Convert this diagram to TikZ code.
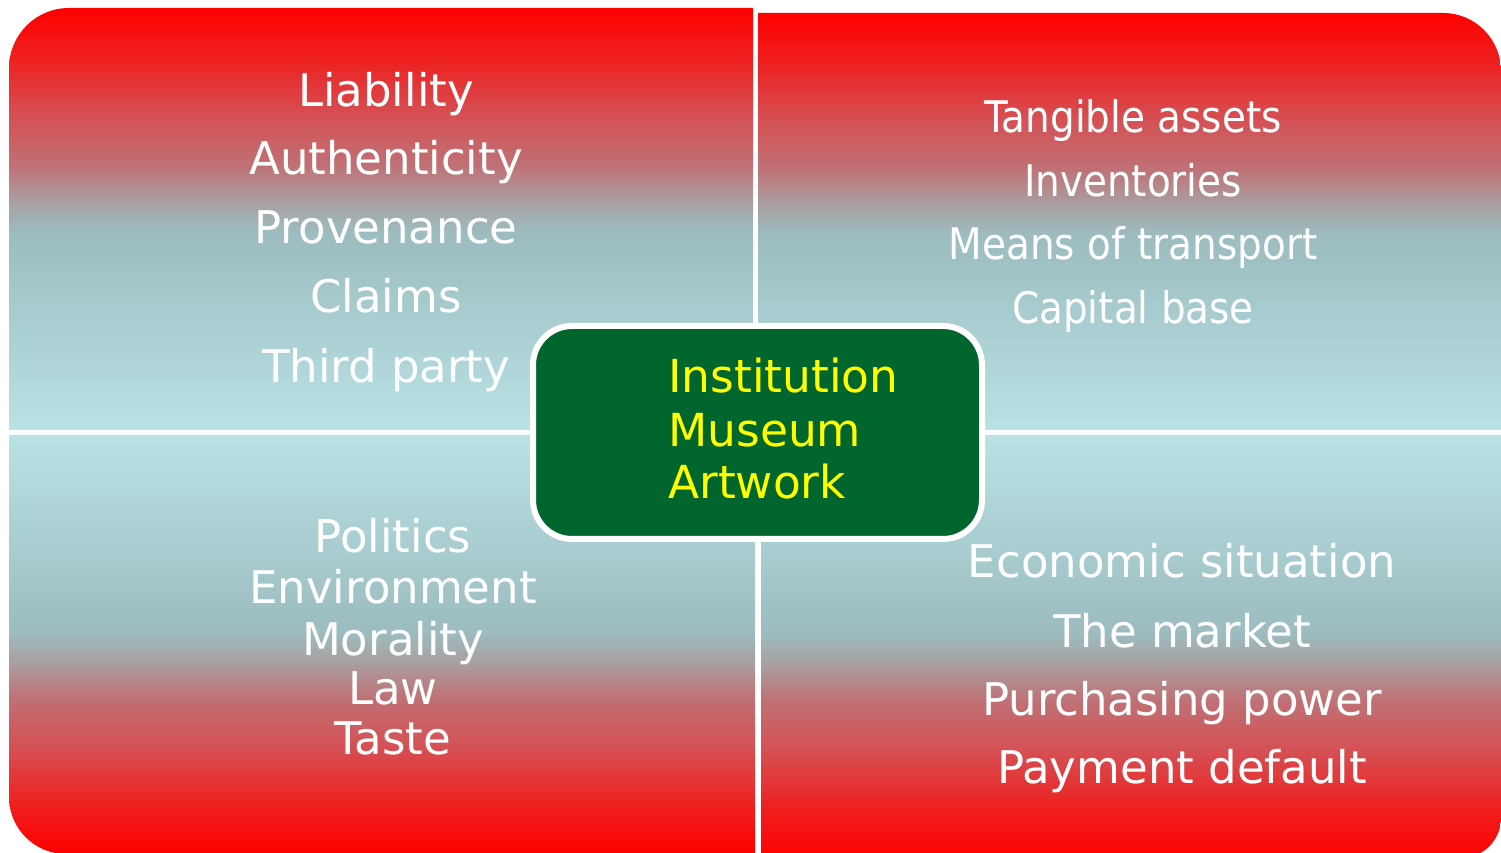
\documentclass[tikz,border=0pt]{standalone}
\usepackage{fontspec}
\setmainfont{DejaVu Sans}
\newfontfamily\condfont[FakeStretch=0.895]{DejaVu Sans}
\definecolor{qred}{HTML}{FF0000}
\definecolor{qa}{HTML}{EE2020}
\definecolor{qb}{HTML}{D45256}
\definecolor{qc}{HTML}{C07074}
\definecolor{qd}{HTML}{A8A0A2}
\definecolor{qe}{HTML}{9CBCBF}
\definecolor{qlight}{HTML}{B9E2E5}
\definecolor{boxgreen}{RGB}{0,102,46}
\definecolor{boxyellow}{HTML}{FFFF00}
\pgfdeclareverticalshading{qtop}{100bp}{color(0bp)=(qlight); color(25bp)=(qlight); color(48.5bp)=(qe); color(52bp)=(qd); color(56.5bp)=(qc); color(62bp)=(qb); color(69bp)=(qa); color(75bp)=(qred); color(100bp)=(qred)}
\pgfdeclareverticalshading{qbot}{100bp}{color(0bp)=(qred); color(25bp)=(qred); color(31bp)=(qa); color(38bp)=(qb); color(43.5bp)=(qc); color(48bp)=(qd); color(51.5bp)=(qe); color(75bp)=(qlight); color(100bp)=(qlight)}
\tikzset{
  quadtxt/.style={text=white, anchor=base, inner sep=0pt, font=\fontsize{45}{54}\selectfont},
  condtxt/.style={text=white, anchor=base, inner sep=0pt, font=\condfont\fontsize{43.5}{52}\selectfont},
  boxtxt/.style={text=boxyellow, anchor=base west, inner sep=0pt, font=\fontsize{45.5}{54}\selectfont},
  centerbox/.style={draw=white, line width=6pt, fill=boxgreen, rounded corners=39pt, inner sep=0pt, minimum width=449pt, minimum height=213pt}
}
\begin{document}
\begin{tikzpicture}[x=1pt,y=1pt]
\useasboundingbox (0,0) rectangle (1501,852);
\fill[white] (0,0) rectangle (1501,852);
\begin{scope}
\clip (0,0) rectangle (1501,852);
% top-left quadrant
\path[shading=qtop] (753,422) -- (9,422) -- (9,784) arc[start angle=180,end angle=90,radius=60pt] -- (753,844) -- cycle;
% top-right quadrant
\path[shading=qtop] (758,422) -- (758,839) -- (1443,839) arc[start angle=90,end angle=0,radius=58pt] -- (1501,422) -- cycle;
% bottom-left quadrant
\path[shading=qbot] (9,417) -- (9,55) arc[start angle=180,end angle=270,radius=57pt] -- (755,-2) -- (755,417) -- cycle;
% bottom-right quadrant
\path[shading=qbot] (761,417) -- (761,-6) -- (1461,-6) arc[start angle=270,end angle=360,radius=40pt] -- (1501,417) -- cycle;
\end{scope}
% top-left texts
\node[quadtxt] (tl1) at (386,745.3) {Liability};
\node[quadtxt] (tl2) at (386,677) {Authenticity};
\node[quadtxt] (tl3) at (386,608) {Provenance};
\node[quadtxt] (tl4) at (386,539) {Claims};
\node[quadtxt] (tl5) at (386,469) {Third party};
% top-right texts
\node[condtxt] (tr1) at (1133,719) {Tangible assets};
\node[condtxt] (tr2) at (1133,655) {Inventories};
\node[condtxt] (tr3) at (1133,592) {Means of transport};
\node[condtxt] (tr4) at (1133,528) {Capital base};
% bottom-left texts
\node[quadtxt] (bl1) at (393,299) {Politics};
\node[quadtxt] (bl2) at (393,249) {Environment};
\node[quadtxt] (bl3) at (393,197) {Morality};
\node[quadtxt] (bl4) at (393,148) {Law};
\node[quadtxt] (bl5) at (393,98) {Taste};
% bottom-right texts
\node[quadtxt] (br1) at (1182,275) {Economic situation};
\node[quadtxt] (br2) at (1182,205) {The market};
\node[quadtxt] (br3) at (1182,137) {Purchasing power};
\node[quadtxt] (br4) at (1182,69) {Payment default};
% centre box
\node[centerbox] (box) at (757.5,419.5) {};
\node[boxtxt] (c1) at (668,459) {Institution};
\node[boxtxt] (c2) at (668,405) {Museum};
\node[boxtxt] (c3) at (668,353) {Artwork};
\end{tikzpicture}
\end{document}
